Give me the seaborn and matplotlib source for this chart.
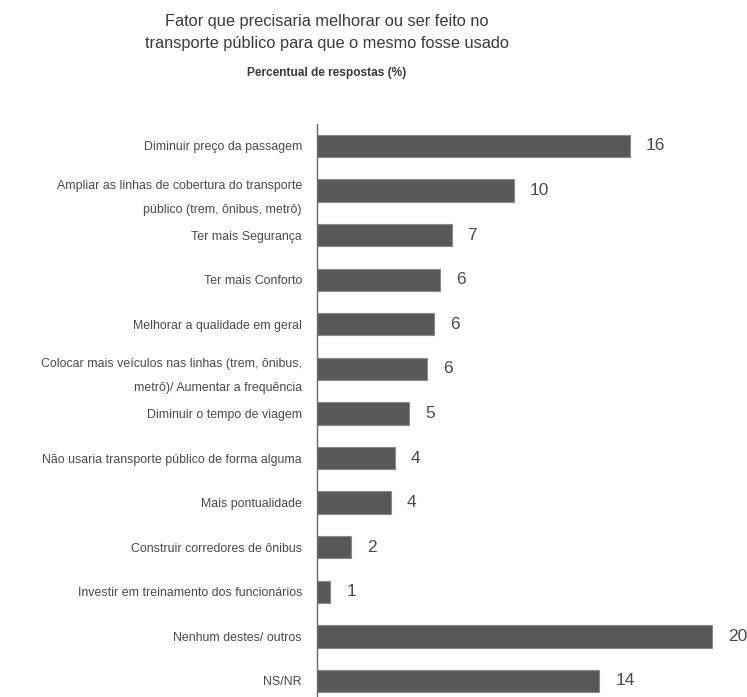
import matplotlib
matplotlib.use("Agg")
import matplotlib.pyplot as plt
import seaborn as sns
import pandas as pd
from matplotlib.ticker import FixedLocator

categories = [
    "Diminuir preço da passagem",
    "Ampliar as linhas de cobertura do transporte\npúblico (trem, ônibus, metrô)",
    "Ter mais Segurança",
    "Ter mais Conforto",
    "Melhorar a qualidade em geral",
    "Colocar mais veículos nas linhas (trem, ônibus,\nmetrô)/ Aumentar a frequência",
    "Diminuir o tempo de viagem",
    "Não usaria transporte público de forma alguma",
    "Mais pontualidade",
    "Construir corredores de ônibus",
    "Investir em treinamento dos funcionários",
    "Nenhum destes/ outros",
    "NS/NR",
]
values = [16.0, 10.1, 6.9, 6.3, 6.0, 5.65, 4.75, 4.0, 3.8, 1.75, 0.7, 20.2, 14.45]
value_labels = ["16", "10", "7", "6", "6", "6", "5", "4", "4", "2", "1", "20", "14"]

title = "Fator que precisaria melhorar ou ser feito no\ntransporte público para que o mesmo fosse usado"
subtitle = "Percentual de respostas (%)"

sns.set_style("white")
FONT = ["Liberation Sans", "DejaVu Sans"]
plt.rcParams["font.family"] = FONT

df = pd.DataFrame({"cat": categories, "val": values})

W, H = 747, 697
fig = plt.figure(figsize=(W / 100, H / 100), dpi=100)
ax_left = 316.5 / W
ax_top = 123.7
ax = fig.add_axes([ax_left, 0, 1 - ax_left, (H - ax_top) / H])

sns.barplot(data=df, x="val", y="cat", orient="h", color="#585858",
            edgecolor="#8a8a8a", linewidth=0.8, width=0.5, saturation=1, ax=ax)

ax.set_xlim(0, 22.0)
ax.set_ylim(12.36, -0.5)
ax.set_xlabel("")
ax.set_ylabel("")
ax.set_xticks([])

for s in ["top", "right", "bottom"]:
    ax.spines[s].set_visible(False)
ax.spines["left"].set_color("#6a6a6a")
ax.spines["left"].set_linewidth(1.0)

ax.tick_params(axis="y", which="major", length=0, pad=10.5, labelsize=8.9, labelcolor="#4a4a4a")
ax.yaxis.set_minor_locator(FixedLocator([i - 0.5 for i in range(13)]))
ax.tick_params(axis="y", which="minor", length=3.8, width=1.0, color="#6a6a6a", direction="out")
for lab in ax.get_yticklabels():
    lab.set_linespacing(2.3)
    lab.set_ha("right")

for i, (v, t) in enumerate(zip(values, value_labels)):
    ax.annotate(t, xy=(v, i), xytext=(11.5, 0), textcoords="offset points",
                ha="left", va="center", fontsize=12.5, color="#4a4a4a")

fig.text(327 / W, 1 - 32.5 / H, title, ha="center", va="center", fontsize=11.8,
         color="#3a3a3a", linespacing=1.55)
fig.text(327 / W, 1 - 73 / H, subtitle, ha="center", va="center", fontsize=8.6,
         color="#3a3a3a", fontweight="bold")

fig.savefig("out.png", dpi=100)
